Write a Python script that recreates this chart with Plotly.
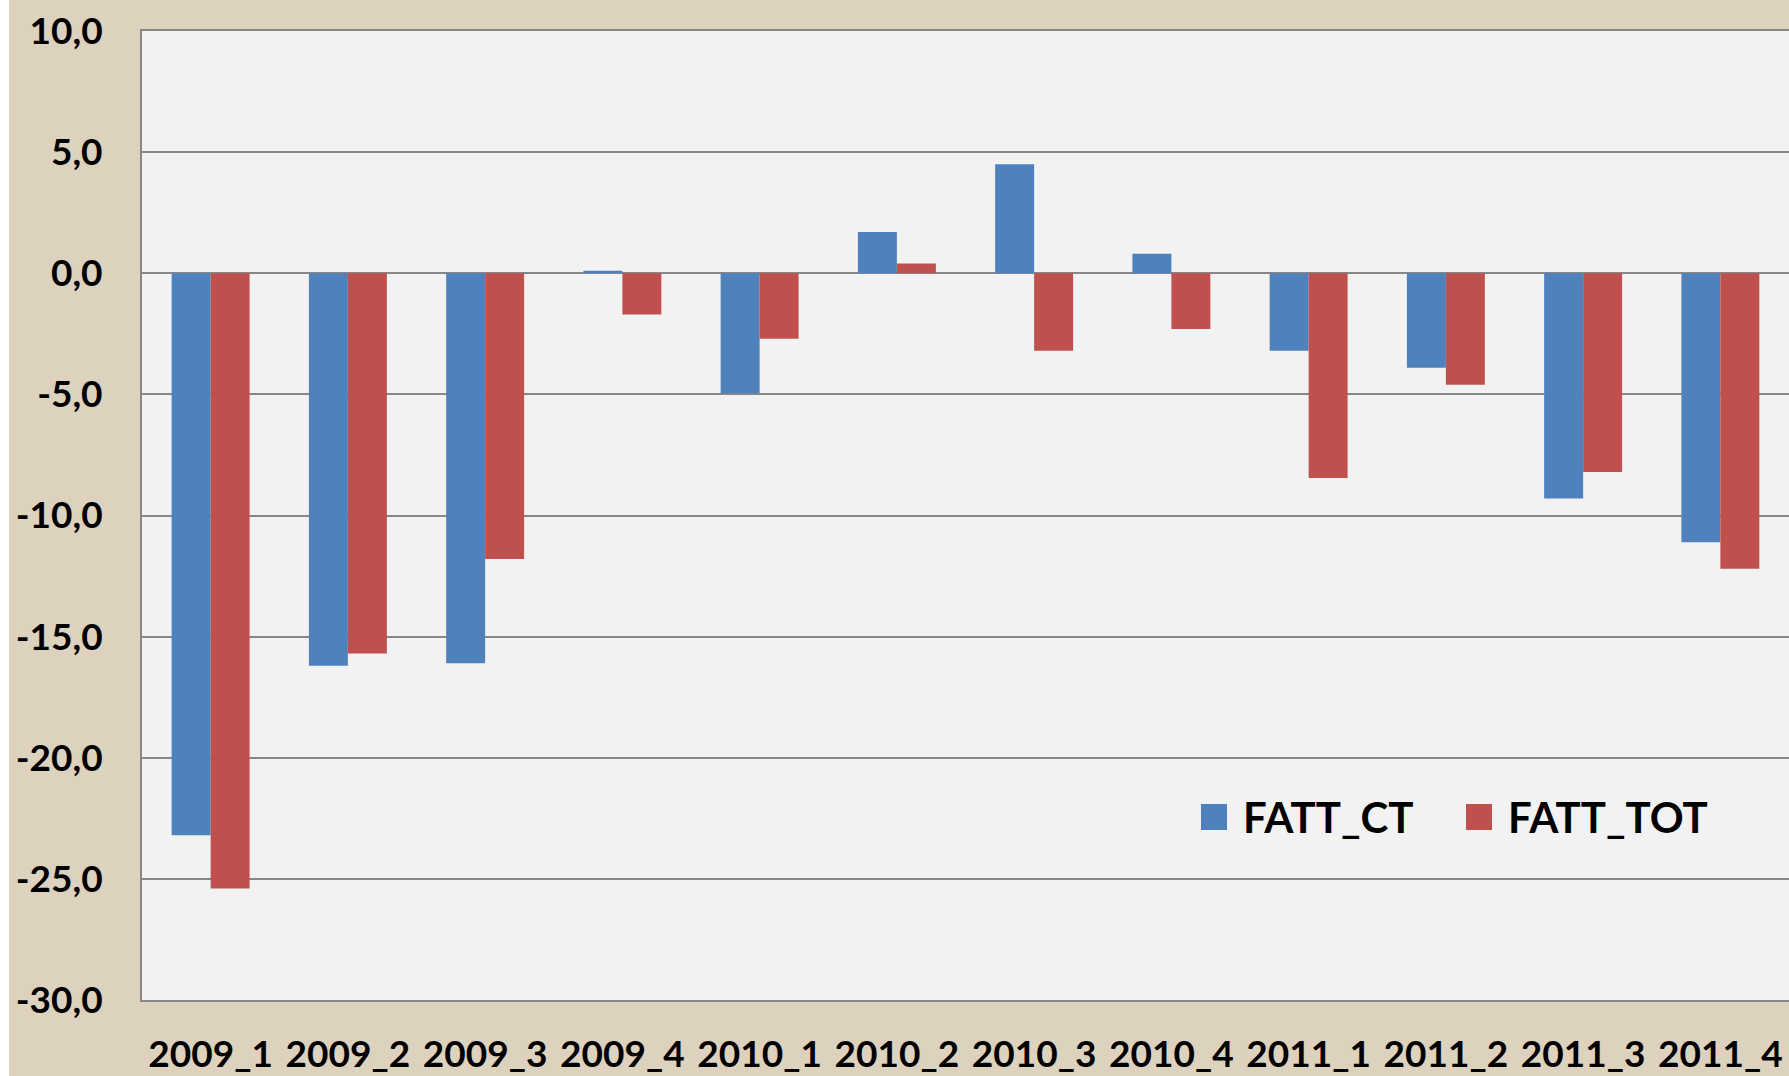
import plotly.graph_objects as go

categories = ["2009_1", "2009_2", "2009_3", "2009_4", "2010_1", "2010_2",
              "2010_3", "2010_4", "2011_1", "2011_2", "2011_3", "2011_4"]
fatt_ct = [-23.2, -16.2, -16.1, 0.1, -4.95, 1.7, 4.5, 0.8, -3.2, -3.9, -9.3, -11.1]
fatt_tot = [-25.4, -15.7, -11.8, -1.7, -2.7, 0.4, -3.2, -2.3, -8.45, -4.6, -8.2, -12.2]
series_names = ["FATT_CT", "FATT_TOT"]
y_ticks = [10, 5, 0, -5, -10, -15, -20, -25, -30]
y_tick_labels = ["10,0", "5,0", "0,0", "-5,0", "-10,0", "-15,0", "-20,0", "-25,0", "-30,0"]

BLUE = "#4f81bd"
RED = "#c0504d"
GRID = "#878787"
FONT = dict(family="Lato", size=37, color="#000000", weight="bold")

OFFX = 9  # white strip at left of the page
W, H = 1789 - OFFX, 1076
L, T, R, B = 142 - OFFX, 31, 0, 76
PW = W - L - R
PH = H - T - B

fig = go.Figure()
fig.add_trace(go.Bar(x=categories, y=fatt_ct, name=series_names[0],
                     marker=dict(color=BLUE, line=dict(width=0)), showlegend=False))
fig.add_trace(go.Bar(x=categories, y=fatt_tot, name=series_names[1],
                     marker=dict(color=RED, line=dict(width=0)), showlegend=False))

fig.update_layout(
    width=W, height=H,
    margin=dict(l=L, r=R, t=T, b=B, autoexpand=False),
    paper_bgcolor="#dcd2bd",
    plot_bgcolor="#f2f2f2",
    separators=",.",
    barmode="group",
    bargap=0.432,
    bargroupgap=0,
    showlegend=False,
)
fig.update_xaxes(
    type="category",
    tickfont=FONT,
    showgrid=False,
    showline=True, mirror=True, linecolor=GRID, linewidth=2,
    ticks="", ticklabelstandoff=21,
)
fig.update_yaxes(
    range=[-30, 10],
    tickmode="array",
    tickvals=y_ticks,
    ticktext=y_tick_labels,
    tickfont=FONT,
    showgrid=True, gridcolor=GRID, gridwidth=1.5,
    zeroline=True, zerolinecolor=GRID, zerolinewidth=1.5,
    showline=True, mirror=True, linecolor=GRID, linewidth=2,
    ticks="", ticklabelstandoff=30,
)

# custom legend (large square keys); positions given in page pixels
def px_x(x):
    return (x - OFFX - L) / PW

def px_y(y):
    return (H - B - y) / PH

legend_items = [(series_names[0], BLUE, 1201, 1241), (series_names[1], RED, 1466, 1506)]
for name, col, sx, tx in legend_items:
    fig.add_shape(type="rect", xref="paper", yref="paper",
                  x0=px_x(sx), x1=px_x(sx + 26), y0=px_y(830), y1=px_y(804),
                  fillcolor=col, line=dict(width=0))
    fig.add_annotation(text=name, xref="paper", yref="paper",
                       x=px_x(tx), y=px_y(817), xanchor="left", yanchor="middle",
                       showarrow=False,
                       font=dict(family="Lato", size=42, color="#000000", weight="bold"))

post = ("document.body.style.margin='0px 0px 0px %dpx';"
        "document.body.style.overflow='hidden';"
        "document.body.style.background='#ffffff';" % OFFX)
fig.write_html("out.html", post_script=post)
